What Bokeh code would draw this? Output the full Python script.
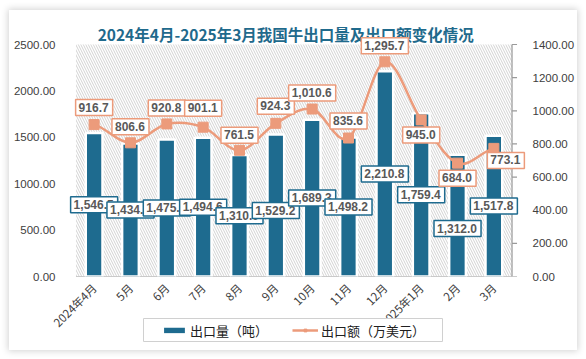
from bokeh.plotting import figure
from bokeh.models import (ColumnDataSource, Range1d, FactorRange, LinearAxis, FixedTicker,
                          NumeralTickFormatter, Legend, LegendItem)
from bokeh.transform import dodge
from bokeh.core.properties import value
from bokeh.embed import file_html
from bokeh.resources import INLINE
import math

title_text = "2024年4月-2025年3月我国牛出口量及出口额变化情况"
months = ["2024年4月", "5月", "6月", "7月", "8月", "9月", "10月", "11月", "12月", "2025年1月", "2月", "3月"]
volume = [1546.5, 1434.4, 1475.1, 1494.6, 1310.0, 1529.2, 1689.3, 1498.2, 2210.8, 1759.4, 1312.0, 1517.8]
amount = [916.7, 806.6, 920.8, 901.1, 761.5, 924.3, 1010.6, 835.6, 1295.7, 945.0, 684.0, 773.1]
left_ticks = [0, 500, 1000, 1500, 2000, 2500]
right_ticks = [0, 200, 400, 600, 800, 1000, 1200, 1400]
series_names = ["出口量（吨）", "出口额（万美元）"]

BAR = "#1E6B8F"
LINE = "#EC9B7B"
TXT = "#595959"
AX = "#9a9a9a"
FONT = "Liberation Sans"
CJK = "Noto Sans CJK SC"

LTOP, RTOP = left_ticks[-1], right_ticks[-1]
FRAME_H, AXIS_H = 258, 232          # frame taller than the axis span: room for the title and top labels
ext = FRAME_H / AXIS_H
nb = len(months)
BAND = 451 / nb

p = figure(frame_width=467, frame_height=FRAME_H,
           x_range=FactorRange(factors=months, range_padding=0.4257, range_padding_units="absolute"),
           y_range=Range1d(0, LTOP * ext),
           output_backend="svg", toolbar_location=None,
           min_border_left=51, min_border_right=50, min_border_top=8, min_border_bottom=74)
p.extra_y_ranges = {"amt": Range1d(0, RTOP * ext)}
p.styles = {"margin-left": "9px", "margin-top": "10px",
            "box-shadow": "0px 0px 7px 1px rgba(0,0,0,0.18)"}

p.background_fill_color = "white"
p.border_fill_color = "white"
p.outline_line_color = None
p.grid.visible = False

# title (drawn inside the upper part of the frame)
p.text(x=[(285 - 68) / BAND], y=[LTOP * (276 - 33) / AXIS_H], text=[title_text],
       text_align="center", text_baseline="middle", text_font=value(CJK), text_font_size="15.5px",
       text_font_style="bold", text_color="#1F6A8C")

# hatched plot background (synthetic categorical coordinates span 0..n)
p.quad(left=[0], right=[nb], bottom=[0], top=[LTOP], fill_color="white", line_color=None,
       hatch_pattern="left_diagonal_line", hatch_color="#d2d2d2", hatch_scale=5, hatch_weight=1)
# baseline and right axis line with ticks
p.segment(x0=[0], x1=[nb], y0=[0], y1=[0], line_color=AX, line_width=1.2)
p.segment(x0=[nb], x1=[nb], y0=[0], y1=[RTOP], line_color=AX, line_width=1.2, y_range_name="amt")
p.ray(x=[nb] * len(right_ticks), y=right_ticks, length=5, length_units="screen", angle=0,
      line_color=AX, line_width=1.2, y_range_name="amt")

# bars
byo = [0, 0, 0, 0, 0, 5, 0, 0, 0, 0, 13, 0]
bsrc = ColumnDataSource(dict(m=months, v=volume, half=[v / 2 for v in volume],
                             lab=[f"{v:,.1f}" for v in volume], yo=byo))
bars = p.vbar(x="m", top="v", width=0.46, source=bsrc, fill_color=BAR, line_color="white", line_width=2.5)

# smooth line (bezier segments between consecutive points)
n = len(amount)
x0, x1, y0, y1, cy0, cy1 = [], [], [], [], [], []
for i in range(n - 1):
    ym1 = amount[i - 1] if i > 0 else amount[i]
    yp2 = amount[i + 2] if i + 2 < n else amount[i + 1]
    x0.append(months[i]); x1.append(months[i + 1])
    y0.append(amount[i]); y1.append(amount[i + 1])
    cy0.append(amount[i] + (amount[i + 1] - ym1) / 6)
    cy1.append(amount[i + 1] - (yp2 - amount[i]) / 6)
zsrc = ColumnDataSource(dict(x0=x0, x1=x1, y0=y0, y1=y1, cy0=cy0, cy1=cy1))
curve = p.bezier(x0="x0", y0="y0", x1="x1", y1="y1",
                 cx0=dodge("x0", 1 / 3, range=p.x_range), cy0="cy0",
                 cx1=dodge("x1", -1 / 3, range=p.x_range), cy1="cy1",
                 source=zsrc, line_color=LINE, line_width=2.5, y_range_name="amt")

# line label offsets (pixels, screen: positive = down)
xo = [0, 0, 0, 0, 0, 0, 0, 0, 0, 0, 0, 12]
yo = [-17, -16, -16, -19, -15, -17, -16, -17, -16, 15, 15, 12]
lsrc = ColumnDataSource(dict(m=months, v=amount, lab=[f"{v:,.1f}" for v in amount], xo=xo, yo=yo))
marks = p.scatter(x="m", y="v", source=lsrc, marker="square", size=10, fill_color=LINE,
                  line_color=LINE, y_range_name="amt")

p.text(x="m", y="half", text="lab", source=bsrc, y_offset="yo", text_align="center", text_baseline="middle",
       text_font=value(FONT), text_font_size="12px", text_font_style="bold", text_color=TXT,
       background_fill_color="white", border_line_color=BAR, border_line_width=1.5, padding=(3, 4, 3, 4))

p.text(x="m", y="v", text="lab", source=lsrc, x_offset="xo", y_offset="yo",
       text_align="center", text_baseline="middle", y_range_name="amt",
       text_font=value(FONT), text_font_size="12px", text_font_style="bold", text_color=TXT,
       background_fill_color="white", border_line_color=LINE, border_line_width=1.5, padding=(3, 4, 3, 4))

# axes
la = p.yaxis[0]
la.ticker = FixedTicker(ticks=left_ticks)
la.formatter = NumeralTickFormatter(format="0.00")
la.axis_line_color = None
la.major_tick_line_color = None
la.minor_tick_line_color = None
la.major_tick_out = 0
la.major_label_standoff = 5
la.major_label_text_font = FONT
la.major_label_text_font_size = "11.5px"
la.major_label_text_color = "#404040"

ra = LinearAxis(y_range_name="amt", ticker=FixedTicker(ticks=right_ticks),
                formatter=NumeralTickFormatter(format="0.00"))
ra.axis_line_color = None
ra.major_tick_line_color = None
ra.minor_tick_line_color = None
ra.major_tick_out = 0
ra.major_label_standoff = 5
ra.major_label_text_font = FONT
ra.major_label_text_font_size = "11.5px"
ra.major_label_text_color = "#404040"
p.add_layout(ra, "right")

xa = p.xaxis[0]
xa.axis_line_color = None
xa.major_tick_line_color = None
xa.minor_tick_line_color = None
xa.major_tick_out = 0
xa.major_label_standoff = 9
xa.major_label_orientation = math.pi / 4
xa.major_label_text_font = CJK
xa.major_label_text_font_size = "11.5px"
xa.major_label_text_color = "#404040"

# legend: a small figure laid over the lower part of the card
lp = figure(width=300, height=24, output_backend="svg", toolbar_location=None,
            x_axis_location=None, y_axis_location=None, min_border=0,
            x_range=Range1d(0, 1), y_range=Range1d(0, 1))
lp.styles = {"position": "absolute", "left": "143px", "top": "318px"}
lp.grid.visible = False
lp.outline_line_color = "#d0d0d0"
lp.outline_line_width = 1
lp.background_fill_color = "white"
lp.border_fill_color = "white"
# legend-only glyphs, placed outside the visible range of this small figure
hidden = ColumnDataSource(dict(x=[-5, -6], y=[-5, -6]))
g1 = lp.rect(x="x", y="y", width=1, height=1, source=hidden, fill_color=BAR, line_color=None)
g2 = lp.line(x="x", y="y", source=hidden, line_color=LINE, line_width=2.5)
g3 = lp.scatter(x="x", y="y", source=hidden, marker="square", size=8, fill_color=LINE, line_color=LINE)
legend = Legend(items=[LegendItem(label=series_names[0], renderers=[g1]),
                       LegendItem(label=series_names[1], renderers=[g2, g3])],
                orientation="horizontal", location="center",
                label_text_font=CJK, label_text_font_size="13px", label_text_color="#202020",
                border_line_alpha=0, background_fill_alpha=0,
                glyph_width=26, glyph_height=7, spacing=24, padding=0, margin=0, label_standoff=3)
lp.add_layout(legend)

open("out.html", "w").write(file_html([p, lp], INLINE))
